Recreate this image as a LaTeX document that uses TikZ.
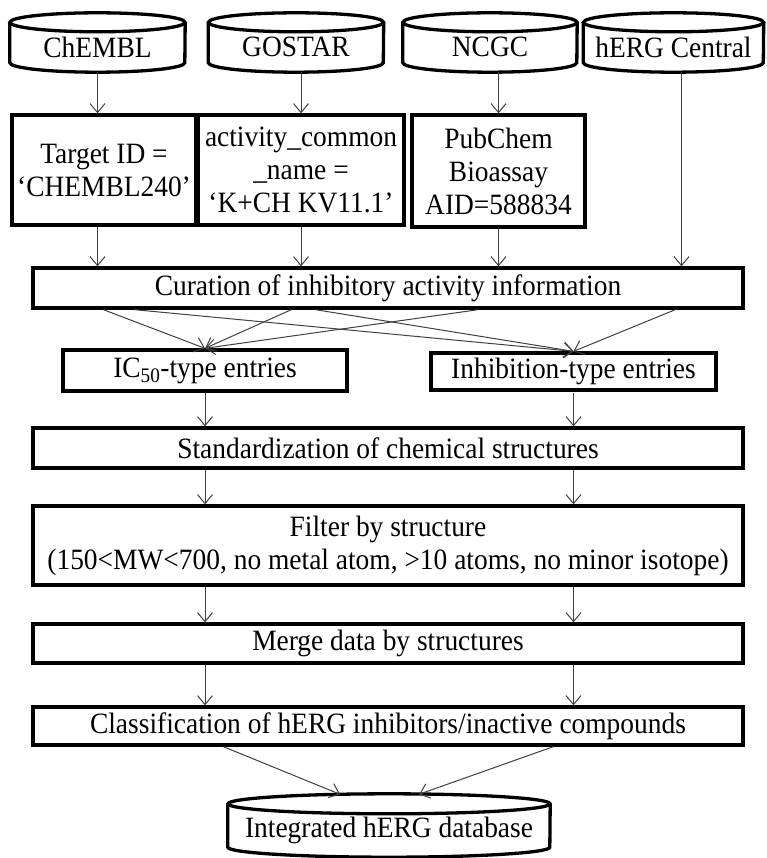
\documentclass[tikz,border=0pt]{standalone}
\usepackage{fontspec}
\setmainfont[FakeStretch=0.93]{Liberation Serif}
\usepackage{tikz}
\usetikzlibrary{arrows.meta}
\usetikzlibrary{calc}
\tikzset{>={Straight Barb[length=9pt,width=15pt]}}
\newcommand{\boxfont}{\fontsize{29.5}{33}\selectfont}
\tikzstyle{box}=[draw,line width=3.3pt,inner sep=0pt,align=center,font=\boxfont]
\tikzstyle{db}=[inner sep=0pt,align=center,font=\boxfont]
\tikzstyle{cylline}=[line width=3.3pt]
\tikzstyle{flow}=[->,line width=1pt,draw=black!75]
\newcommand{\dbdraw}[3]{%
  \draw[cylline] (#1.north west) -- ($(#1.south west)+(0,#3)$) arc (180:360:#2 and #3) -- (#1.north east);
  \draw[cylline] (#1.north) ellipse (#2 and #3);
}

\begin{document}
\begin{tikzpicture}[x=1pt,y=1pt]
      \useasboundingbox (0,0) rectangle (766,-858);

      \node[db,minimum width=175,minimum height=49.5] (chembl) at (97.5,-47.25) {ChEMBL};
      \node[db,minimum width=175,minimum height=49.5] (gostar) at (296,-47.25) {GOSTAR};
      \node[db,minimum width=174,minimum height=49.5] (ncgc) at (490,-47.25) {NCGC};
      \node[db,minimum width=180,minimum height=49.5] (herg) at (673.5,-47.25) {hERG Central};
      \dbdraw{chembl}{87.5}{9.5}
      \dbdraw{gostar}{87.5}{9.5}
      \dbdraw{ncgc}{87}{9.5}
      \dbdraw{herg}{90}{9.5}

      \node[box,minimum width=184,minimum height=110] (tgt) at (104,-170) {Target ID =\\‘CHEMBL240’};
      \node[box,minimum width=206,minimum height=110] (act) at (301,-170) {activity\_common\\\_name =\\‘K+CH KV11.1’};
      \node[box,minimum width=173,minimum height=112] (pub) at (498.5,-171) {PubChem\\Bioassay\\AID=588834};

      \node[box,minimum width=710,minimum height=40] (cur) at (388,-288) {Curation of inhibitory activity information};
      \node[box,minimum width=284,minimum height=41] (ic) at (205,-370.5) {IC\textsubscript{50}-type entries};
      \node[box,minimum width=285,minimum height=37] (inh) at (573.5,-371.5) {Inhibition-type entries};
      \node[box,minimum width=710,minimum height=40] (std) at (388,-448) {Standardization of chemical structures};
      \node[box,minimum width=710,minimum height=79] (filt) at (388,-545.5) {Filter by structure\\(150<MW<700, no metal atom, >10 atoms, no minor isotope)};
      \node[box,minimum width=710,minimum height=39] (mrg) at (388,-643.5) {Merge data by structures};
      \node[box,minimum width=710,minimum height=38] (cls) at (388,-726) {Classification of hERG inhibitors/inactive compounds};

      \node[db,minimum width=322,minimum height=53] (intdb) at (389,-830.5) {Integrated hERG database};
      \dbdraw{intdb}{161}{10}

      \draw[flow] (chembl.south) -- (chembl.south |- tgt.north);
      \draw[flow] (act.north |- gostar.south) -- (act.north);
      \draw[flow] (pub.north |- ncgc.south) -- (pub.north);
      \draw[flow] ([xshift=8pt]herg.south) -- ([xshift=8pt]herg.south |- cur.north);
      \draw[flow] (chembl.south |- tgt.south) -- (chembl.south |- cur.north);
      \draw[flow] (act.south) -- (act.south |- cur.north);
      \draw[flow] (pub.south) -- (pub.south |- cur.north);

      \foreach \dx/\dest in {72/ic,103/inh,260/ic,284/inh,447/ic,644/inh}
        \draw[flow] ([xshift=\dx pt]cur.south west) -- (\dest.north);

      \foreach \a/\b in {ic/std,std/filt,filt/mrg,mrg/cls} {
        \draw[flow] (ic.south |- \a.south) -- (ic.south |- \b.north);
        \draw[flow] (inh.south |- \a.south) -- (inh.south |- \b.north);
      }

      \draw[flow] ([xshift=192pt]cls.south west) -- ([xshift=-49pt,yshift=9.5pt]intdb.north);
      \draw[flow] ([xshift=522pt]cls.south west) -- ([xshift=30pt,yshift=9.5pt]intdb.north);
\end{tikzpicture}
\end{document}
